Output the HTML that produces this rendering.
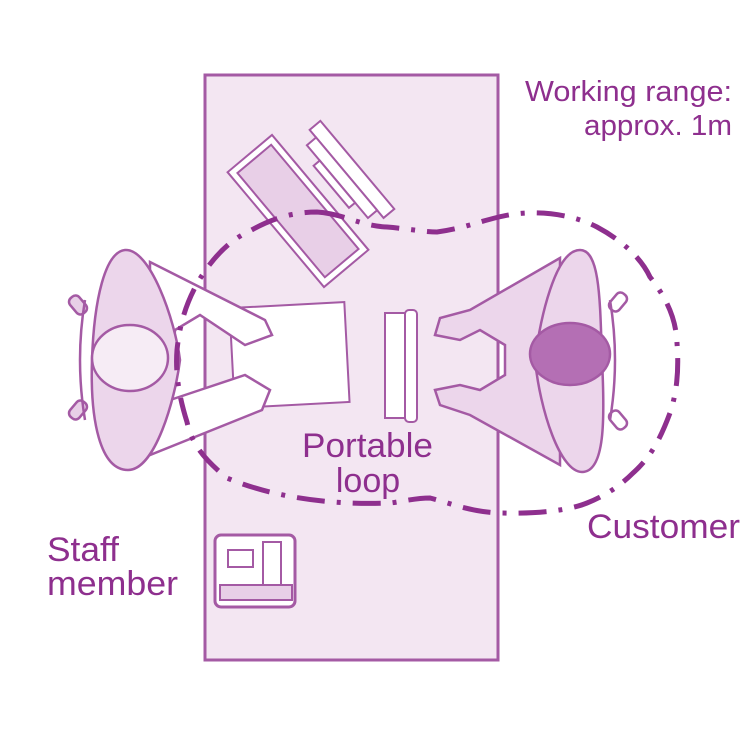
<!DOCTYPE html>
<html><head><meta charset="utf-8"><style>
html,body{margin:0;padding:0;background:#fff}
svg{display:block}
text{font-family:"Liberation Sans",sans-serif;fill:#8e2f8e}
</style></head><body>
<svg width="750" height="750" viewBox="0 0 750 750" xmlns="http://www.w3.org/2000/svg">
<rect x="205" y="75" width="293" height="585" fill="#f3e6f2" stroke="#a45aa4" stroke-width="3"/>
<g transform="rotate(50 345 172)" stroke="#a45aa4" stroke-width="2" fill="#fff">
<rect x="290" y="158" width="115" height="14"/>
<rect x="300" y="172" width="95" height="12"/>
<rect x="320" y="184" width="55" height="8"/>
</g>
<g transform="rotate(50 298 211)" stroke="#a45aa4" stroke-width="2">
<rect x="223" y="182" width="150" height="58" fill="#fff"/>
<rect x="230" y="189" width="136" height="44" fill="#e8cfe7"/>
</g>
<rect x="232" y="305" width="115" height="100" fill="#fff" stroke="#a45aa4" stroke-width="2" transform="rotate(-3 290 355)"/>
<rect x="385" y="313" width="22" height="105" fill="#fff" stroke="#a45aa4" stroke-width="2"/>
<rect x="405" y="310" width="12" height="112" rx="4" fill="#fff" stroke="#a45aa4" stroke-width="2"/>
<rect x="215" y="535" width="80" height="72" rx="6" fill="#fff" stroke="#a45aa4" stroke-width="3"/>
<rect x="228" y="550" width="25" height="17" fill="#fff" stroke="#a45aa4" stroke-width="2"/>
<rect x="263" y="542" width="18" height="50" fill="#fff" stroke="#a45aa4" stroke-width="2"/>
<rect x="220" y="585" width="72" height="15" fill="#e8cfe7" stroke="#a45aa4" stroke-width="2"/>
<g stroke="#a45aa4" stroke-width="2.5">
<rect x="72" y="295" width="12" height="20" rx="5" fill="#e8cfe7" transform="rotate(-40 78 305)"/>
<rect x="72" y="400" width="12" height="20" rx="5" fill="#e8cfe7" transform="rotate(40 78 410)"/>
<path d="M85,300 Q75,360 85,420" fill="none"/>
<polygon points="150,262 265,320 272,335 245,345 200,315 175,330 170,400 200,390 245,375 270,390 262,410 150,455" fill="#fff"/>
<path d="M125,250 C150,248 175,320 180,360 C175,400 155,470 128,470 C100,470 90,420 92,360 C94,300 105,252 125,250 Z" fill="#ecd6eb"/>
<ellipse cx="130" cy="358" rx="38" ry="33" fill="#f6ecf5"/>
</g>
<g stroke="#a45aa4" stroke-width="2.5">
<rect x="612" y="292" width="12" height="20" rx="5" fill="#fff" transform="rotate(40 618 302)"/>
<rect x="612" y="410" width="12" height="20" rx="5" fill="#fff" transform="rotate(-40 618 420)"/>
<path d="M610,300 Q620,360 610,420" fill="none"/>
<polygon points="560,258 470,310 440,318 435,335 460,340 480,330 505,345 505,375 480,390 460,385 435,390 440,405 470,415 560,465" fill="#ecd6eb"/>
<path d="M580,250 C555,250 540,320 535,360 C540,410 560,472 582,472 C605,472 605,420 602,360 C600,300 600,250 580,250 Z" fill="#ecd6eb"/>
<ellipse cx="570" cy="354" rx="40" ry="31" fill="#b46fb4"/>
</g>
<path d="M317,212 C345,214 360,226 387,227 C410,229 425,232 437,232 C470,228 495,214 527,213 C555,212 580,218 597,227 C625,242 642,260 650,277 C668,300 676,320 677,343 C679,370 677,392 670,413 C660,440 650,458 633,473 C618,488 602,497 587,503 C570,510 540,514 500,513 C470,512 450,503 430,498 C415,498 400,502 390,503 C340,505 280,500 227,478 C205,460 192,445 187,422 C180,400 175,375 177,350 C180,320 188,300 198,282 C212,258 230,240 248,232 C262,224 285,212 317,212 Z" fill="none" stroke="#8e2f8e" stroke-width="5" stroke-dasharray="28 12 4 12"/>
<text x="732" y="101" font-size="29" text-anchor="end" textLength="207" lengthAdjust="spacingAndGlyphs">Working range:</text>
<text x="732" y="135" font-size="29" text-anchor="end" textLength="148" lengthAdjust="spacingAndGlyphs">approx. 1m</text>
<text x="302" y="457" font-size="34" textLength="131" lengthAdjust="spacingAndGlyphs">Portable</text>
<text x="368" y="492" font-size="34" text-anchor="middle">loop</text>
<text x="587" y="538" font-size="34" textLength="153" lengthAdjust="spacingAndGlyphs">Customer</text>
<text x="47" y="561" font-size="34" textLength="72" lengthAdjust="spacingAndGlyphs">Staff</text>
<text x="47" y="595" font-size="34" textLength="131" lengthAdjust="spacingAndGlyphs">member</text>
</svg>
</body></html>
